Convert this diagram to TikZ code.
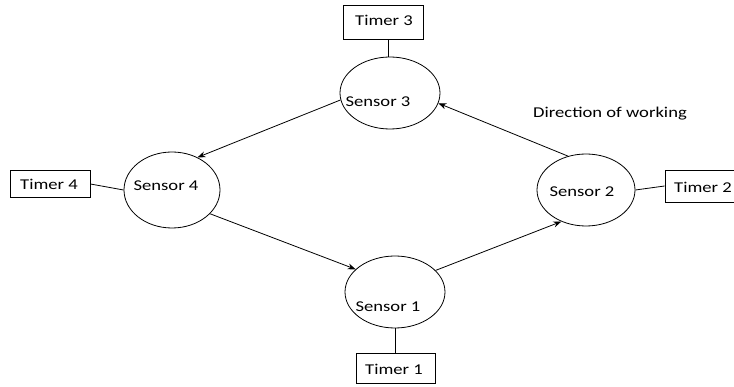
\documentclass[tikz,border=0pt]{standalone}
\usepackage{fontspec}
\setmainfont{Carlito}[FakeStretch=1.24]
\usetikzlibrary{arrows.meta,shapes.geometric}
\begin{document}
\begin{tikzpicture}[x=1pt,y=-1pt,
  sensor/.style={draw, ellipse, minimum width=100pt, minimum height=72pt, line width=0.8pt},
  timer/.style={draw, rectangle, line width=0.9pt, inner sep=0pt},
  lbl/.style={font=\fontsize{15}{17}\selectfont, inner sep=0pt},
  link/.style={line width=0.8pt},
  flow/.style={line width=0.8pt, -{Stealth[length=8pt,width=6pt]}}]
\useasboundingbox (0,0) rectangle (734,387);
% sensors
\node[sensor] (s3) at (390,93) {};
\node[sensor, minimum width=96pt, minimum height=76pt] (s4) at (172,190) {};
\node[sensor, minimum width=98pt] (s2) at (586,190) {};
\node[sensor] (s1) at (395,292) {};
\node[lbl] at (378,102) {Sensor 3};
\node[lbl] at (166,186) {Sensor 4};
\node[lbl] at (582,192) {Sensor 2};
\node[lbl] at (388,307) {Sensor 1};
% timers (the Timer 2 box runs on past the right edge)
\node[timer, minimum width=80pt, minimum height=34pt] (t3) at (383,22) {};
\node[lbl] at (384,20) {Timer 3};
\node[timer, minimum width=80pt, minimum height=27pt] (t4) at (50,184) {};
\node[lbl] at (49,184) {Timer 4};
\node[timer, minimum width=90pt, minimum height=32pt] (t2) at (710,186) {};
\node[lbl] at (703,187) {Timer 2};
\node[timer, minimum width=79pt, minimum height=30pt] (t1) at (396,368) {};
\node[lbl] at (394,369) {Timer 1};
% timer links
\draw[link] (t3.south -| s3.north) ++(-2,0) coordinate (a3) -- (a3 |- s3.north);
\draw[link] (t4.east) -- (s4.west);
\draw[link] (s2.east) -- (t2.west);
\draw[link] (s1.south) -- (s1.south |- t1.north);
% working cycle
\draw[flow] (s3.188) -- (s4.52);
\draw[flow] (s4.-32) -- (s1.150);
\draw[flow] (s1.28) -- (s2.-128);
\draw[flow] (s2.118) -- (s3.-12);
\node[lbl] at (610,114) {Direction of working};
\end{tikzpicture}
\end{document}
